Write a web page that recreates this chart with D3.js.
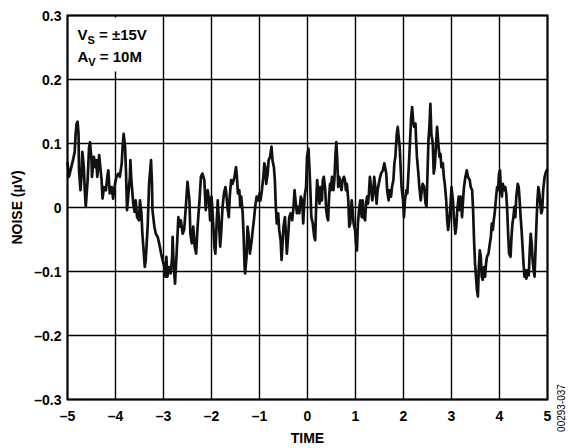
<!DOCTYPE html>
<html>
<head>
<meta charset="utf-8">
<script src="https://cdn.jsdelivr.net/npm/d3@7"></script>
<style>
  body { margin: 0; background: #fff; }
  svg text { font-family: "Liberation Sans", Arial, sans-serif; font-weight: bold; fill: #000; }
</style>
</head>
<body>
<div id="chart"></div>
<script>
// axis ticks
var xTicks = [-5, -4, -3, -2, -1, 0, 1, 2, 3, 4, 5];
var yTicks = [-0.3, -0.2, -0.1, 0, 0.1, 0.2, 0.3];
var yTickLabels = ["–0.3", "–0.2", "–0.1", "0", "0.1", "0.2", "0.3"];

// noise trace: [time, noise µV]
var trace = [
  [-5.00,0.071],[-4.97,0.048],[-4.92,0.063],[-4.88,0.076],[-4.85,0.087],[-4.83,0.115],[-4.81,0.131],[-4.79,0.134],
  [-4.77,0.115],[-4.76,0.058],[-4.73,0.027],[-4.71,0.048],[-4.69,0.087],[-4.66,0.063],[-4.64,0.027],[-4.62,0.001],
  [-4.58,0.043],[-4.55,0.095],[-4.53,0.102],[-4.50,0.074],[-4.49,0.048],[-4.45,0.079],[-4.42,0.063],[-4.40,0.074],
  [-4.38,0.048],[-4.34,0.082],[-4.31,0.058],[-4.29,0.043],[-4.27,0.014],[-4.24,0.032],[-4.20,0.027],[-4.17,0.048],
  [-4.15,0.058],[-4.12,0.022],[-4.08,0.032],[-4.05,0.014],[-4.01,0.037],[-3.98,0.048],[-3.94,0.053],[-3.91,0.048],
  [-3.87,0.069],[-3.85,0.097],[-3.83,0.115],[-3.80,0.095],[-3.78,0.053],[-3.76,-0.004],[-3.73,0.022],[-3.70,0.048],
  [-3.69,0.074],[-3.67,0.043],[-3.63,0.006],[-3.60,-0.007],[-3.58,0.011],[-3.55,-0.015],[-3.51,-0.020],[-3.49,0.011],
  [-3.46,-0.009],[-3.44,-0.041],[-3.42,-0.061],[-3.39,-0.093],[-3.37,-0.082],[-3.33,-0.030],[-3.30,0.037],[-3.26,0.074],
  [-3.24,0.037],[-3.23,-0.004],[-3.19,-0.030],[-3.16,-0.041],[-3.12,-0.046],[-3.09,-0.056],[-3.05,-0.072],[-3.02,-0.082],
  [-2.98,-0.093],[-2.96,-0.108],[-2.94,-0.077],[-2.92,-0.108],[-2.88,-0.093],[-2.85,-0.103],[-2.82,-0.077],[-2.81,-0.046],
  [-2.79,-0.087],[-2.76,-0.119],[-2.73,-0.077],[-2.69,-0.015],[-2.67,-0.030],[-2.64,-0.020],[-2.60,-0.041],[-2.57,-0.035],
  [-2.53,0.006],[-2.50,0.040],[-2.46,0.011],[-2.44,-0.041],[-2.41,-0.056],[-2.38,-0.030],[-2.35,-0.061],[-2.32,-0.072],
  [-2.29,-0.030],[-2.25,0.011],[-2.22,0.048],[-2.19,0.053],[-2.15,0.043],[-2.12,-0.004],[-2.08,0.027],[-2.05,0.011],
  [-2.03,-0.020],[-2.00,0.017],[-1.98,-0.004],[-1.94,-0.061],[-1.92,-0.072],[-1.89,-0.020],[-1.87,0.011],[-1.85,-0.015],
  [-1.82,-0.061],[-1.80,-0.041],[-1.77,0.001],[-1.74,0.022],[-1.71,0.032],[-1.70,0.027],[-1.66,-0.004],[-1.64,-0.015],
  [-1.62,0.017],[-1.59,0.043],[-1.56,0.037],[-1.52,0.048],[-1.49,0.063],[-1.47,0.048],[-1.45,0.022],[-1.42,0.027],
  [-1.40,0.001],[-1.38,0.017],[-1.35,-0.009],[-1.33,-0.046],[-1.31,-0.093],[-1.30,-0.103],[-1.27,-0.077],[-1.25,-0.030],
  [-1.23,-0.041],[-1.20,-0.072],[-1.17,-0.056],[-1.14,-0.035],[-1.11,-0.015],[-1.09,0.001],[-1.06,0.017],[-1.03,0.011],
  [-1.00,0.022],[-0.98,0.011],[-0.95,0.027],[-0.92,0.048],[-0.90,0.069],[-0.88,0.063],[-0.86,0.037],[-0.83,0.053],
  [-0.81,0.074],[-0.78,0.079],[-0.75,0.095],[-0.73,0.074],[-0.70,0.063],[-0.68,0.043],[-0.66,0.001],[-0.64,-0.025],
  [-0.61,-0.009],[-0.59,-0.035],[-0.56,-0.051],[-0.54,-0.082],[-0.52,-0.056],[-0.50,-0.030],[-0.47,-0.015],[-0.45,-0.041],
  [-0.43,-0.072],[-0.40,-0.041],[-0.38,-0.015],[-0.35,-0.009],[-0.32,-0.020],[-0.29,0.001],[-0.27,0.027],[-0.25,0.011],
  [-0.22,-0.009],[-0.20,0.001],[-0.17,-0.009],[-0.14,0.017],[-0.11,0.011],[-0.09,-0.025],[-0.06,0.017],[-0.03,0.032],
  [-0.01,0.079],[0.02,0.092],[0.04,0.063],[0.06,0.027],[0.08,-0.015],[0.11,-0.025],[0.14,-0.046],[0.16,-0.051],
  [0.18,0.001],[0.20,0.043],[0.22,0.027],[0.25,0.006],[0.27,0.032],[0.30,0.011],[0.32,0.043],[0.34,0.048],
  [0.37,0.027],[0.39,-0.004],[0.41,-0.015],[0.43,-0.020],[0.45,0.017],[0.47,0.037],[0.49,0.027],[0.51,0.048],
  [0.54,0.027],[0.56,0.043],[0.58,0.079],[0.60,0.102],[0.62,0.074],[0.64,0.032],[0.66,0.048],[0.69,0.037],
  [0.71,0.027],[0.73,0.043],[0.76,0.048],[0.78,0.043],[0.80,0.027],[0.82,0.037],[0.85,0.011],[0.87,-0.030],
  [0.89,-0.025],[0.92,0.011],[0.94,-0.004],[0.96,-0.025],[0.99,-0.035],[1.01,-0.056],[1.03,-0.067],[1.05,-0.025],
  [1.08,0.001],[1.10,0.011],[1.13,-0.015],[1.15,0.011],[1.17,-0.015],[1.20,-0.020],[1.22,0.006],[1.24,0.017],
  [1.26,0.006],[1.28,0.022],[1.30,0.048],[1.33,0.027],[1.35,0.011],[1.37,0.022],[1.39,0.048],[1.42,0.027],
  [1.44,0.006],[1.46,0.027],[1.50,0.043],[1.53,0.053],[1.57,0.058],[1.60,0.069],[1.64,0.053],[1.66,0.027],
  [1.69,0.011],[1.71,0.027],[1.74,0.017],[1.76,0.032],[1.79,0.043],[1.81,0.069],[1.83,0.079],[1.86,0.115],
  [1.88,0.126],[1.90,0.110],[1.92,0.095],[1.94,0.063],[1.96,0.032],[1.99,0.011],[2.01,-0.015],[2.03,0.011],
  [2.06,0.027],[2.08,0.022],[2.11,0.063],[2.14,0.110],[2.16,0.141],[2.18,0.157],[2.20,0.136],[2.22,0.126],
  [2.25,0.131],[2.26,0.110],[2.28,0.079],[2.31,0.053],[2.33,0.032],[2.36,0.011],[2.38,0.027],[2.40,0.037],
  [2.43,0.032],[2.46,0.006],[2.48,0.001],[2.50,0.053],[2.52,0.105],[2.54,0.126],[2.56,0.162],[2.58,0.115],
  [2.61,0.100],[2.63,0.053],[2.65,0.063],[2.68,0.100],[2.70,0.126],[2.72,0.105],[2.75,0.079],[2.77,0.084],
  [2.79,0.063],[2.82,0.069],[2.84,0.048],[2.86,0.037],[2.89,0.011],[2.91,-0.020],[2.93,-0.035],[2.96,-0.015],
  [2.98,0.006],[3.00,0.032],[3.03,0.011],[3.05,-0.015],[3.08,-0.041],[3.10,-0.030],[3.12,-0.004],[3.15,0.017],
  [3.17,-0.004],[3.19,0.017],[3.22,-0.015],[3.24,0.011],[3.26,0.032],[3.29,0.048],[3.32,0.058],[3.34,0.048],
  [3.38,0.043],[3.40,0.032],[3.43,0.027],[3.45,-0.004],[3.47,-0.051],[3.49,-0.087],[3.51,-0.108],[3.53,-0.129],
  [3.55,-0.139],[3.57,-0.093],[3.59,-0.067],[3.61,-0.077],[3.63,-0.108],[3.65,-0.113],[3.68,-0.093],[3.70,-0.108],
  [3.72,-0.087],[3.74,-0.077],[3.77,-0.072],[3.79,-0.061],[3.82,-0.046],[3.84,-0.025],[3.86,-0.035],[3.88,-0.020],
  [3.90,-0.009],[3.93,0.017],[3.95,0.032],[3.97,0.027],[3.99,0.053],[4.01,0.058],[4.03,0.027],[4.05,0.017],
  [4.07,0.037],[4.09,0.027],[4.12,0.032],[4.14,0.022],[4.16,-0.004],[4.18,-0.041],[4.20,-0.072],[4.23,-0.077],
  [4.25,-0.046],[4.27,-0.025],[4.29,-0.015],[4.31,0.001],[4.33,-0.015],[4.35,0.017],[4.38,0.037],[4.40,0.032],
  [4.42,0.011],[4.44,-0.015],[4.46,-0.035],[4.48,-0.061],[4.50,-0.087],[4.52,-0.108],[4.54,-0.098],[4.56,-0.111],
  [4.59,-0.098],[4.61,-0.106],[4.63,-0.067],[4.65,-0.041],[4.67,-0.056],[4.69,-0.082],[4.71,-0.098],[4.73,-0.108],
  [4.75,-0.067],[4.77,-0.025],[4.79,0.011],[4.81,0.032],[4.83,0.022],[4.85,0.006],[4.87,-0.009],[4.89,-0.004],
  [4.91,0.027],[4.94,0.048],[4.97,0.056],[5.00,0.060]
];

var margin = {top: 15.5, right: 20.5, bottom: 48.5, left: 67.5},
  width = 568,
  height = 448,
  plotW = width - margin.left - margin.right,
  plotH = height - margin.top - margin.bottom;

var svg = d3.select("#chart")
  .append("svg")
  .attr("width", width)
  .attr("height", height);

var g = svg.append("g")
  .attr("transform", "translate(" + margin.left + "," + margin.top + ")");

var x = d3.scaleLinear().domain([-5, 5]).range([0, plotW]);
var y = d3.scaleLinear().domain([-0.3, 0.3]).range([plotH, 0]);

// grid
g.append("g")
  .selectAll("line")
  .data(xTicks)
  .enter().append("line")
  .attr("x1", function(d) { return x(d); })
  .attr("x2", function(d) { return x(d); })
  .attr("y1", 0)
  .attr("y2", plotH)
  .style("stroke", "#000")
  .style("stroke-width", "1.4px");

g.append("g")
  .selectAll("line")
  .data(yTicks)
  .enter().append("line")
  .attr("x1", 0)
  .attr("x2", plotW)
  .attr("y1", function(d) { return y(d); })
  .attr("y2", function(d) { return y(d); })
  .style("stroke", "#000")
  .style("stroke-width", "1.4px");

// white box behind the conditions text
g.append("rect")
  .attr("x", 2)
  .attr("y", 2)
  .attr("width", 92)
  .attr("height", 54)
  .style("fill", "#fff");

// trace
var line = d3.line()
  .x(function(d) { return x(d[0]); })
  .y(function(d) { return y(d[1]); });

g.append("path")
  .datum(trace)
  .attr("d", line)
  .style("fill", "none")
  .style("stroke", "#111")
  .style("stroke-width", "2.7px")
  .style("stroke-linejoin", "round");

// frame
g.append("rect")
  .attr("width", plotW)
  .attr("height", plotH)
  .style("fill", "none")
  .style("stroke", "#000")
  .style("stroke-width", "2px");

// tick labels
g.append("g")
  .selectAll("text")
  .data(yTicks)
  .enter().append("text")
  .attr("x", -6)
  .attr("y", function(d) { return y(d); })
  .attr("dy", "0.36em")
  .attr("text-anchor", "end")
  .style("font-size", "14px")
  .text(function(d, i) { return yTickLabels[i]; });

g.append("g")
  .selectAll("text")
  .data(xTicks)
  .enter().append("text")
  .attr("x", function(d) { return x(d); })
  .attr("y", plotH + 21)
  .attr("text-anchor", "middle")
  .style("font-size", "14px")
  .text(function(d) { return d < 0 ? "–" + Math.abs(d) : d; });

// axis titles
svg.append("text")
  .attr("x", margin.left + x(0))
  .attr("y", 443)
  .attr("text-anchor", "middle")
  .style("font-size", "14px")
  .text("TIME");

svg.append("text")
  .attr("transform", "translate(22," + (margin.top + y(0)) + ") rotate(-90)")
  .attr("text-anchor", "middle")
  .style("font-size", "14px")
  .text("NOISE (µV)");

// conditions
var cond = g.append("g").attr("transform", "translate(10,0)");
var t1 = cond.append("text").attr("y", 24).style("font-size", "15px");
t1.append("tspan").text("V");
t1.append("tspan").attr("dy", 4).style("font-size", "11px").text("S");
t1.append("tspan").attr("dy", -4).text(" = ±15V");
var t2 = cond.append("text").attr("y", 46).style("font-size", "15px");
t2.append("tspan").text("A");
t2.append("tspan").attr("dy", 4).style("font-size", "11px").text("V");
t2.append("tspan").attr("dy", -4).text(" = 10M");

// figure number
svg.append("text")
  .attr("transform", "translate(565,408) rotate(-90)")
  .attr("text-anchor", "middle")
  .style("font-size", "10px")
  .style("font-weight", "normal")
  .text("00293-037");
</script>
</body>
</html>
